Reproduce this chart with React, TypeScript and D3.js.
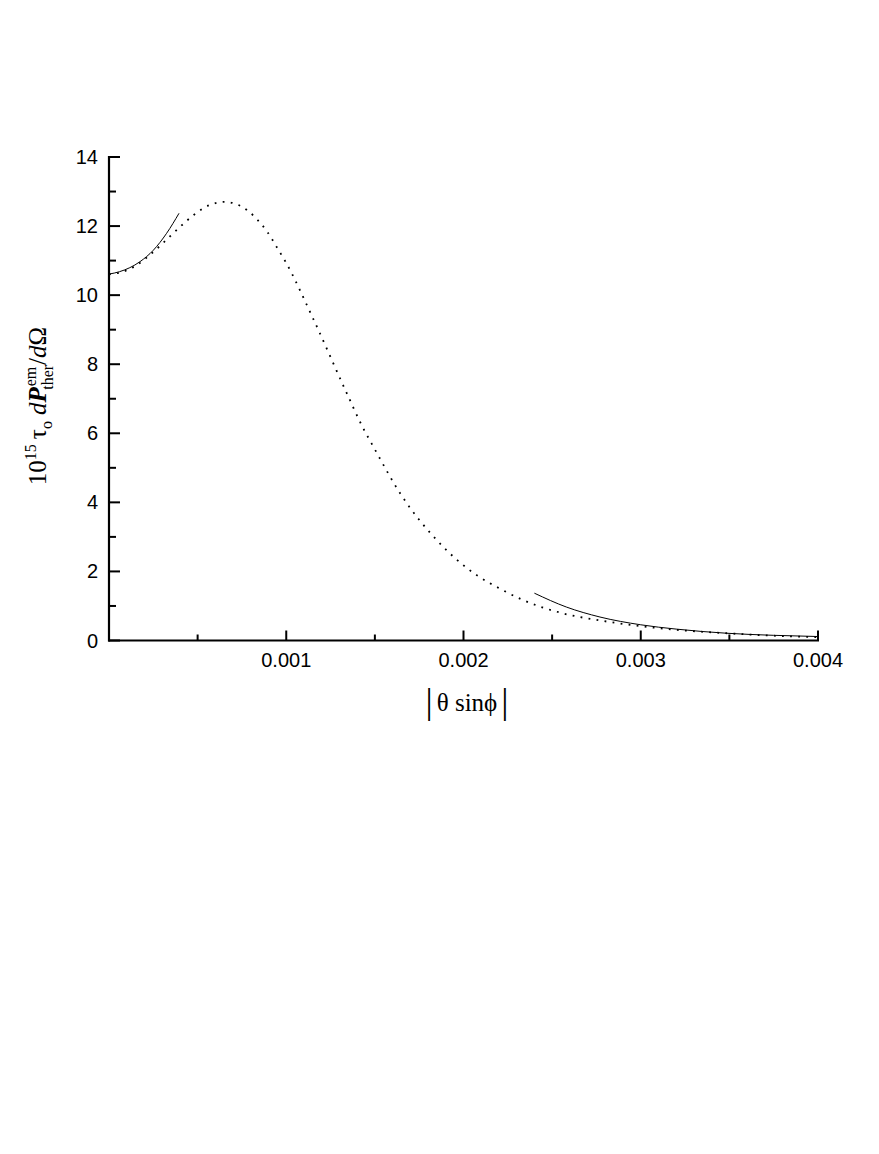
import React from "react"
import * as d3 from "d3"

// dotted curve (full calculation)
const dotX = [0, 0.0001, 0.00015, 0.000218, 0.000303, 0.000391, 0.000478, 0.000564, 0.00065, 0.000739, 0.000825, 0.000895, 0.00095, 0.001, 0.001149, 0.001345, 0.001427, 0.001497, 0.001649, 0.001854, 0.002072, 0.002206, 0.002332, 0.00255, 0.00277, 0.003, 0.0032, 0.003485, 0.0037, 0.004]
const dotY = [10.6, 10.72, 10.85, 11.11, 11.5, 11.93, 12.32, 12.6, 12.7, 12.59, 12.25, 11.82, 11.36, 10.93, 9.35, 7.12, 6.22, 5.56, 4.21, 2.88, 1.9, 1.5, 1.18, 0.8, 0.58, 0.415, 0.31, 0.21, 0.15, 0.095]

// solid curves (small and large angle approximations)
const lowX = [0, 0.00006, 0.000175, 0.00025, 0.000325, 0.000395]
const lowY = [10.61, 10.68, 10.97, 11.3, 11.79, 12.37]
const highX = [0.0024, 0.00258, 0.00277, 0.003, 0.0032, 0.003485, 0.00375, 0.004]
const highY = [1.37, 0.97, 0.68, 0.455, 0.33, 0.21, 0.15, 0.115]

const xMajor = [0.001, 0.002, 0.003, 0.004]
const xMinor = [0.0005, 0.0015, 0.0025, 0.0035]
const yMajor = [0, 2, 4, 6, 8, 10, 12, 14]
const yMinor = [1, 3, 5, 7, 9, 11, 13]

const W = 879
const H = 1154

const App = () => {
  const x = d3.scaleLinear().domain([0, 0.004]).range([109, 818])
  const y = d3.scaleLinear().domain([0, 14]).range([640.5, 157])

  const line = d3.line<[number, number]>()
    .x(d => x(d[0]))
    .y(d => y(d[1]))
    .curve(d3.curveMonotoneX)

  const zip = (xs: number[], ys: number[]) => xs.map((v, i) => [v, ys[i]] as [number, number])

  const sans = "'Liberation Sans', Arial, Helvetica, sans-serif"
  const serif = "'Liberation Serif', 'Times New Roman', serif"

  return (
    <svg width={W} height={H} style={{ display: "block", position: "absolute", left: 0, top: 0 }}>
      <rect width={W} height={H} fill="#fff" />

      {/* curves */}
      <path d={line(zip(dotX, dotY)) || ""} fill="none" stroke="#000" strokeWidth={1.8} strokeDasharray="1.8 6.3" />
      <path d={line(zip(lowX, lowY)) || ""} fill="none" stroke="#000" strokeWidth={1} />
      <path d={line(zip(highX, highY)) || ""} fill="none" stroke="#000" strokeWidth={1} />

      {/* axes */}
      <line x1={x(0)} x2={x(0)} y1={y(14) - 1} y2={y(0) + 1} stroke="#000" strokeWidth={2.2} />
      <line x1={x(0) - 1} x2={x(0.004) + 1} y1={y(0)} y2={y(0)} stroke="#000" strokeWidth={2.2} />

      {yMajor.map(v => (
        <g key={"ym" + v}>
          <line x1={x(0)} x2={x(0) + 11} y1={y(v)} y2={y(v)} stroke="#000" strokeWidth={2} />
          <text x={98} y={y(v) + 7} textAnchor="end" fontFamily={sans} fontSize={20}>{v}</text>
        </g>
      ))}
      {yMinor.map(v => (
        <line key={"yn" + v} x1={x(0)} x2={x(0) + 7} y1={y(v)} y2={y(v)} stroke="#000" strokeWidth={2} />
      ))}
      {xMajor.map(v => (
        <g key={"xm" + v}>
          <line x1={x(v)} x2={x(v)} y1={y(0)} y2={y(0) - 10} stroke="#000" strokeWidth={2} />
          <text x={x(v)} y={667} textAnchor="middle" fontFamily={sans} fontSize={20}>{v.toFixed(3)}</text>
        </g>
      ))}
      {xMinor.map(v => (
        <line key={"xn" + v} x1={x(v)} x2={x(v)} y1={y(0)} y2={y(0) - 6} stroke="#000" strokeWidth={2} />
      ))}

      {/* x axis title */}
      <text x={467} y={711} textAnchor="middle" fontFamily={serif} fontSize={25}>
        <tspan fontSize={36} dy={2}>|</tspan>
        <tspan dy={-2} dx={4}>θ sinϕ</tspan>
        <tspan fontSize={36} dy={2} dx={4}>|</tspan>
      </text>

      {/* y axis title */}
      <text transform="translate(46,406) rotate(-90)" textAnchor="middle" fontFamily={serif} fontSize={25}>
        <tspan>10</tspan>
        <tspan fontSize={16} dy={-10}>15</tspan>
        <tspan dy={10} dx={5}>τ</tspan>
        <tspan fontSize={16} dy={6}>o</tspan>
        <tspan dy={-6} dx={6} fontStyle="italic">d</tspan>
        <tspan fontStyle="italic" fontWeight="bold">P</tspan>
        <tspan fontSize={16} dy={-10} dx={1}>em</tspan>
        <tspan fontSize={16} dy={17} dx={-23}>ther</tspan>
        <tspan dy={-7}>/</tspan>
        <tspan fontStyle="italic">d</tspan>
        <tspan>Ω</tspan>
      </text>
    </svg>
  )
}

export default App
